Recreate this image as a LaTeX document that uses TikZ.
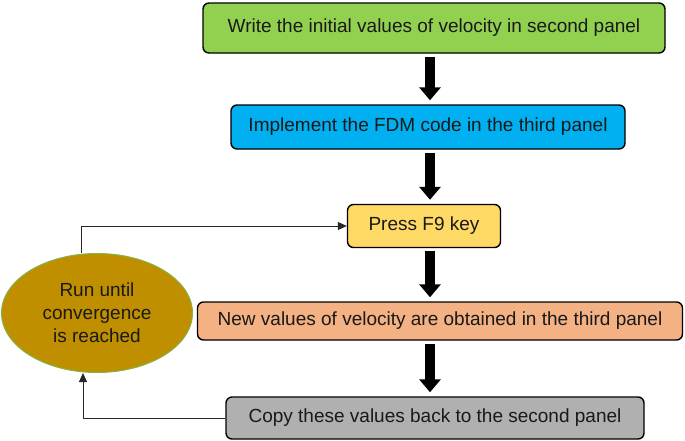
\documentclass[tikz,border=0pt]{standalone}
\usepackage{fontspec}
\setmainfont{Liberation Sans}
\usetikzlibrary{arrows.meta,shapes.geometric}
\begin{document}
\begin{tikzpicture}[x=1pt,y=-1pt,
  box/.style={draw=black,line width=1.4pt,rounded corners=6pt,inner sep=0pt,
    font=\fontsize{19}{22}\selectfont,text=black!90},
  bigarrow/.style={line width=10pt,-{Triangle[width=21pt,length=13pt]},shorten <=3pt,shorten >=4pt},
  thin/.style={line width=0.8pt,draw=black!85}]
\useasboundingbox (0,0) rectangle (685,440);
\node[box,fill={rgb,255:red,146;green,208;blue,80},minimum width=462pt,minimum height=50pt] (b1) at (434,28) {Write the initial values of velocity in second panel};
\node[box,fill={rgb,255:red,0;green,176;blue,240},minimum width=394pt,minimum height=44pt] (b2) at (428,127) {Implement the FDM code in the third panel};
\node[box,fill={rgb,255:red,255;green,217;blue,102},minimum width=153pt,minimum height=43pt] (f9) at (424,226) {Press F9 key};
\node[box,fill={rgb,255:red,244;green,177;blue,131},minimum width=485pt,minimum height=38pt] (b4) at (440,321) {New values of velocity are obtained in the third panel};
\node[box,fill={rgb,255:red,176;green,176;blue,176},minimum width=418pt,minimum height=42pt] (b5) at (435,418) {Copy these values back to the second panel};
\node[ellipse,draw={rgb,255:red,130;green,180;blue,70},line width=1pt,fill={rgb,255:red,191;green,143;blue,0},
  minimum width=191pt,minimum height=119pt,inner sep=0pt,align=center,
  font=\fontsize{19}{23}\selectfont,text=black!90] (el) at (97,313) {Run until\\convergence\\is reached};
\coordinate (ax) at (430,0);
\draw[bigarrow] (b1.south -| ax) -- (b2.north -| ax);
\draw[bigarrow] (b2.south -| ax) -- (f9.north -| ax);
\draw[bigarrow] (f9.south -| ax) -- (b4.north -| ax);
\draw[bigarrow] (b4.south -| ax) -- (b5.north -| ax);
\draw[thin,-{Triangle[width=8pt,length=9pt]}] ([xshift=-16pt]el.north) |- (f9.west);
\draw[thin,-{Triangle[width=8pt,length=9pt]}] (b5.west) -| ([xshift=-14pt]el.south);
\end{tikzpicture}
\end{document}
